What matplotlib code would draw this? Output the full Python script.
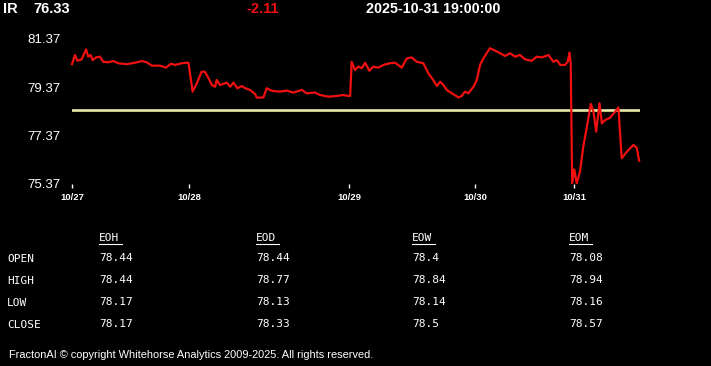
import matplotlib.pyplot as plt

# price trace, bar offset vs close
bars = [0, 1, 1.8, 3.2, 4.7, 5.4, 6.2, 6.9, 8, 9.3, 10.4, 12.1, 13.8, 15.4, 18.2, 21,
        23.2, 24.9, 26.6, 29.3, 31.3, 33, 34.3, 36.6, 38.2, 38.8, 40.2, 41.6, 43.2, 44.3,
        45.8, 46.6, 47.7, 48.2, 49.3, 51.6, 52.7, 53.8, 55.1, 56.6, 57.7, 59.3, 61, 61.6,
        63.8, 64.9, 66.6, 69.3, 71.6, 73.8, 76.6, 78.2, 81, 82.7, 85.4, 88.2, 90.4, 92.1,
        92.7, 93.2, 94.3, 95.4, 96.6, 97.7, 99.1, 100.4, 102.1, 103.8, 106, 107.7, 109.9,
        111.6, 113.2, 114.9, 117.1, 118.8, 120.4, 121.6, 122.7, 123.8, 124.9, 126.6,
        128.8, 129.9, 131, 132.1, 133.8, 134.9, 136, 137.1, 139.3, 141, 142.7, 144.3,
        146, 147.7, 149.3, 151, 153.2, 154.9, 156.6, 158.8, 160.4, 161.6, 162.7, 164.3,
        165.2, 165.8, 166.2, 166.7, 167.4, 168.2, 169.3, 170.4, 171.6, 172.9, 173.8,
        174.7, 175.8, 176.6, 177.7, 179.3, 181, 182.1, 183.2, 184.9, 187.1, 188.2, 189]
close = [80.31, 80.69, 80.45, 80.51, 80.92, 80.62, 80.69, 80.48, 80.59, 80.62, 80.41,
         80.39, 80.44, 80.35, 80.31, 80.37, 80.44, 80.39, 80.25, 80.25, 80.17, 80.33,
         80.28, 80.35, 80.37, 80.37, 79.18, 79.52, 80.0, 80.0, 79.66, 79.45, 79.38, 79.66,
         79.45, 79.55, 79.38, 79.55, 79.32, 79.41, 79.32, 79.25, 79.08, 78.93, 78.94,
         79.32, 79.21, 79.18, 79.22, 79.14, 79.25, 79.11, 79.14, 79.04, 78.97, 79.0,
         79.04, 79.0, 79.0, 80.41, 80.07, 80.21, 80.15, 80.37, 80.04, 80.21, 80.17,
         80.28, 80.35, 80.37, 80.17, 80.55, 80.59, 80.41, 80.35, 79.93, 79.66, 79.41,
         79.59, 79.45, 79.25, 79.11, 78.94, 79.0, 79.18, 79.11, 79.38, 79.66, 80.28,
         80.55, 80.97, 80.87, 80.76, 80.65, 80.76, 80.62, 80.69, 80.51, 80.45, 80.62,
         80.59, 80.69, 80.41, 80.48, 80.28, 80.28, 80.41, 80.79, 80.35, 75.40, 75.97,
         75.40, 75.88, 76.91, 77.73, 78.67, 78.35, 77.53, 78.70, 77.87, 78.01, 78.10,
         78.35, 78.53, 76.43, 76.70, 76.98, 76.87, 76.33]
ref_level = 78.44

day_pos = [0, 39.1, 92.4, 134.4, 167.4]
day_labels = ["10/27", "10/28", "10/29", "10/30", "10/31"]
y_ticks = [75.37, 77.37, 79.37, 81.37]

symbol = "IR"
last = "76.33"
change = "-2.11"
stamp = "2025-10-31 19:00:00"

periods = ["EOH", "EOD", "EOW", "EOM"]
row_names = ["OPEN", "HIGH", "LOW", "CLOSE"]
table = {
    "EOH": ["78.44", "78.44", "78.17", "78.17"],
    "EOD": ["78.44", "78.77", "78.13", "78.33"],
    "EOW": ["78.4", "78.84", "78.14", "78.5"],
    "EOM": ["78.08", "78.94", "78.16", "78.57"],
}
footer = "FractonAI \u00a9 copyright Whitehorse Analytics 2009-2025. All rights reserved."

W, H = 711, 366
fig = plt.figure(figsize=(W / 100, H / 100), dpi=100, facecolor="black")


def fx(px):
    return px / W


def fy(py):
    return 1 - py / H


sans = ["Liberation Sans", "DejaVu Sans"]
mono = ["DejaVu Sans Mono"]

ax = fig.add_axes([fx(72), fy(184), fx(640) - fx(72), fy(35) - fy(184)])
ax.set_facecolor("black")
ax.plot([bars[0], bars[-1] + 0.3], [ref_level, ref_level], color="#e6eaa6", linewidth=1.9)
ax.plot(bars, close, color="#f01010", linewidth=1.6, clip_on=False, solid_joinstyle="round")
ax.set_xlim(0, 189.3)
ax.set_ylim(75.37, 75.37 + 149 / 24.25)
for s in ax.spines.values():
    s.set_visible(False)
ax.set_yticks(y_ticks)
ax.set_yticklabels([f"{v:.2f}" for v in y_ticks], fontsize=9.5, color="white", family=sans)
ax.tick_params(axis="y", length=0, pad=8)
ax.set_xticks(day_pos)
ax.set_xticklabels(day_labels, fontsize=6.8, color="white", fontweight="bold", family=sans)
ax.tick_params(axis="x", length=3, width=1, color="white", pad=3.5)

# header
fig.text(fx(3), fy(9), symbol, color="white", fontsize=10.5, fontweight="bold", family=sans, va="center")
fig.text(fx(33), fy(9), last, color="white", fontsize=10.5, fontweight="bold", family=sans, va="center")
fig.text(fx(246), fy(9), change, color="#f01010", fontsize=10.5, fontweight="bold", family=sans, va="center")
fig.text(fx(366), fy(9), stamp, color="white", fontsize=10.3, fontweight="bold", family=sans, va="center")

# stats table
col_x = [99, 256, 412, 569]
row_y = [258, 280, 302, 324]
for cx, p in zip(col_x, periods):
    fig.text(fx(cx), fy(238), p, color="white", fontsize=8.0, family=mono, va="center")
    fig.add_artist(plt.Line2D([fx(cx), fx(cx + 23)], [fy(244), fy(244)], color="white", linewidth=0.8))
    for ry, val in zip(row_y, table[p]):
        fig.text(fx(cx), fy(ry), val, color="white", fontsize=8.0, family=mono, va="center")
for ry, name in zip(row_y, row_names):
    fig.text(fx(7), fy(ry + 1.5), name, color="white", fontsize=8.0, family=mono, va="center")

fig.text(fx(9), fy(355), footer, color="white", fontsize=7.95, family=sans, va="center")

fig.savefig("out.png", dpi=100, facecolor="black")
